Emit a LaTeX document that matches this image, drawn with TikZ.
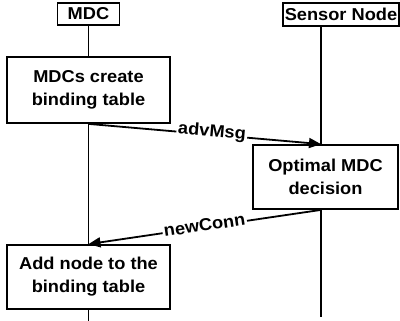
\documentclass[tikz,border=0pt]{standalone}
\usepackage{fontspec}
\newfontfamily\diagfont[FakeStretch=1.06]{Liberation Sans}
\usetikzlibrary{arrows.meta}

\begin{document}
\begin{tikzpicture}[x=1pt, y=-1pt,
    font=\diagfont\bfseries\fontsize{17.2}{23}\selectfont,
    procbox/.style={draw, line width=1.8pt, align=center, inner sep=0pt},
    lifeline/.style={line width=1.8pt},
    msg/.style={line width=1.8pt, -{Triangle[length=12pt, width=10pt]}},
    msglabel/.style={fill=white, inner sep=1.5pt, sloped}]
  \useasboundingbox (0,0) rectangle (400,321);

  % participants
  \node[procbox, minimum width=62, minimum height=22] (mdc) at (88.5,14) {MDC};
  \node[procbox, minimum width=116, minimum height=23] (sensor) at (341,14.5) {Sensor Node};

  % activity boxes
  \node[procbox, minimum width=163, minimum height=66] (mdcs) at (88.5,90) {MDCs create\\binding table};
  \node[procbox, minimum width=145, minimum height=64] (opt) at (325.5,177) {Optimal MDC\\decision};
  \node[procbox, minimum width=163, minimum height=64] (add) at (88.5,277) {Add node to the\\binding table};

  % lifeline anchors
  \coordinate (snA) at (321,26);
  \coordinate (snEnd) at (321,317);
  \coordinate (mdcEnd) at (88.5,321);

  % lifelines
  \draw[lifeline] (mdc.south) -- (mdcs.north);
  \draw[lifeline] (mdcs.south) -- (add.north);
  \draw[lifeline] (add.south) -- (mdcEnd);
  \draw[lifeline] (snA) -- (snA |- opt.north);
  \draw[lifeline] (snA |- opt.south) -- (snEnd);

  % messages
  \draw[msg] (mdcs.south) -- node[msglabel, pos=0.53, yshift=2.5pt] {advMsg} (snA |- opt.north);
  \draw[msg] (snA |- opt.south) -- node[msglabel, pos=0.5, yshift=2pt] {newConn} (add.north);
\end{tikzpicture}
\end{document}
